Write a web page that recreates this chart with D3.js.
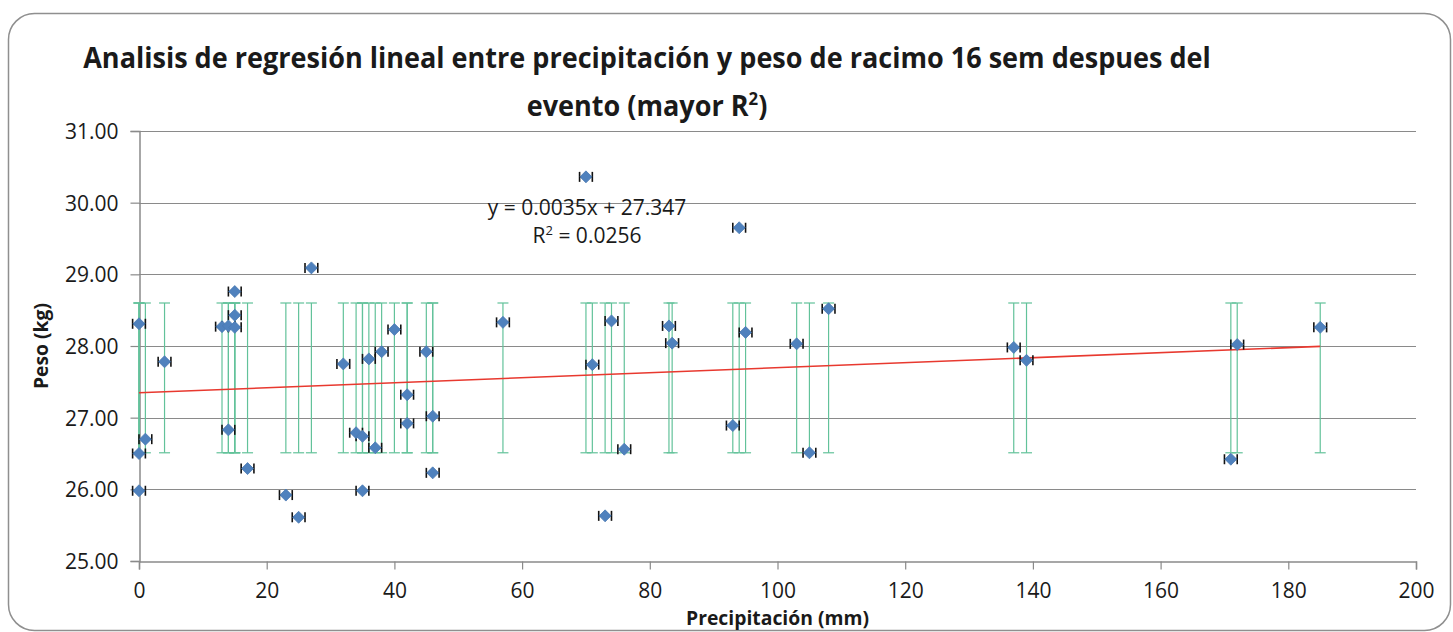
<!DOCTYPE html>
<html>
<head>
<meta charset="utf-8">
<script src="https://cdn.jsdelivr.net/npm/d3@7"></script>
<style>
  html, body { margin: 0; padding: 0; background: #fff; }
  svg { display: block; }
  text { font-family: "Open Sans", "Noto Sans", sans-serif; fill: #1a1a1a; }
</style>
</head>
<body>
<svg id="chart" width="1453" height="632"></svg>
<script>
// ---- data ----
const precipitacion = [0, 0, 0, 1, 4, 13, 14, 14, 15, 15, 15, 17, 23, 25, 27, 32, 34, 35, 35, 36, 37, 38, 40, 42, 42, 45, 46, 46, 57, 70, 71, 73, 74, 76, 83, 83.5, 93, 94, 95, 103, 105, 108, 137, 139, 171, 172, 185];
const peso = [28.31, 26.50, 25.98, 26.70, 27.78, 28.27, 28.28, 26.83, 28.76, 28.43, 28.26, 26.29, 25.92, 25.61, 29.09, 27.75, 26.79, 26.74, 25.98, 27.82, 26.58, 27.92, 28.23, 27.32, 26.92, 27.92, 27.02, 26.23, 28.33, 30.36, 27.74, 25.63, 28.35, 26.56, 28.28, 28.04, 26.89, 29.65, 28.19, 28.03, 26.51, 28.52, 27.98, 27.80, 26.42, 28.02, 28.26];
const yErrBar = [26.51, 28.60];          // green vertical error bar range (custom)
const xErrAmount = [1];                  // horizontal error bar (± mm)
const trend = [0.0035, 27.347];          // slope, intercept
const xTickValues = [0, 20, 40, 60, 80, 100, 120, 140, 160, 180, 200];
const yTickValues = [25, 26, 27, 28, 29, 30, 31];
const titleLines = ["Analisis de regresión lineal entre precipitación y peso de racimo 16 sem despues del", "evento (mayor R"];
const eqLines = ["y = 0.0035x + 27.347", "R"];
const eqR2 = "= 0.0256";
const xTitle = "Precipitación (mm)";
const yTitle = "Peso (kg)";

const points = precipitacion.map((p, i) => ({ x: p, y: peso[i] }));

// ---- layout ----
const svg = d3.select("#chart");
const L = 139, R = 1416, T = 131, B = 561;
const x = d3.scaleLinear().domain([0, 200]).range([L, R]);
const y = d3.scaleLinear().domain([25, 31]).range([B, T]);
const gridCol = "#8a8a8a";

// chart border
svg.append("rect").attr("x", 8.5).attr("y", 13.5).attr("width", 1442).attr("height", 617)
  .attr("rx", 26).attr("ry", 26).attr("fill", "#fff").attr("stroke", "#8f8f8f").attr("stroke-width", 1.5);

// gridlines
svg.append("g").selectAll("line").data(yTickValues.filter(d => d !== 25)).join("line")
  .attr("x1", L).attr("x2", R).attr("y1", d => Math.round(y(d)) + 0.5).attr("y2", d => Math.round(y(d)) + 0.5)
  .attr("stroke", gridCol).attr("stroke-width", 1.2);

// axes
const yAxis = svg.append("g").attr("transform", `translate(${L + 0.5},0)`)
  .call(d3.axisLeft(y).tickValues(yTickValues).tickFormat(d3.format(".2f")).tickSize(9).tickPadding(12));
const xAxis = svg.append("g").attr("transform", `translate(0,${B + 0.5})`)
  .call(d3.axisBottom(x).tickValues(xTickValues).tickSize(8).tickPadding(14));
[yAxis, xAxis].forEach(g => {
  g.select(".domain").attr("stroke", gridCol).attr("stroke-width", 1.5);
  g.selectAll(".tick line").attr("stroke", gridCol).attr("stroke-width", 1.2);
  g.selectAll(".tick text").attr("font-size", 21).attr("fill", "#222")
    .style("font-family", '"Open Sans", sans-serif');
});
yAxis.selectAll(".tick text").attr("dy", "0.36em");

// green vertical error bars
const gErrY = svg.append("g").attr("stroke", "#62c29a").attr("stroke-width", 1.2).attr("fill", "none");
points.forEach(d => {
  const cx = x(d.x), y0 = y(yErrBar[0]), y1 = y(yErrBar[1]);
  gErrY.append("line").attr("x1", cx).attr("x2", cx).attr("y1", y0).attr("y2", y1);
  gErrY.append("line").attr("x1", cx - 5.5).attr("x2", cx + 5.5).attr("y1", y0).attr("y2", y0);
  gErrY.append("line").attr("x1", cx - 5.5).attr("x2", cx + 5.5).attr("y1", y1).attr("y2", y1);
});

// trend line
const xMax = d3.max(precipitacion);
svg.append("line")
  .attr("x1", x(0)).attr("y1", y(trend[1]))
  .attr("x2", x(xMax)).attr("y2", y(trend[0] * xMax + trend[1]))
  .attr("stroke", "#e8392f").attr("stroke-width", 1.6);

// horizontal black error bars
const gErrX = svg.append("g").attr("stroke", "#111").attr("stroke-width", 1.6);
points.forEach(d => {
  const x0 = x(d.x - xErrAmount[0]), x1 = x(d.x + xErrAmount[0]), cy = y(d.y);
  gErrX.append("line").attr("x1", x0).attr("x2", x1).attr("y1", cy).attr("y2", cy);
  gErrX.append("line").attr("x1", x0).attr("x2", x0).attr("y1", cy - 5).attr("y2", cy + 5);
  gErrX.append("line").attr("x1", x1).attr("x2", x1).attr("y1", cy - 5).attr("y2", cy + 5);
});

// markers (diamonds)
const s = 6;
svg.append("g").selectAll("path").data(points).join("path")
  .attr("transform", d => `translate(${x(d.x)},${y(d.y)})`)
  .attr("d", `M0,${-s}L${s},0L0,${s}L${-s},0Z`)
  .attr("fill", "#4f81bd").attr("stroke", "#4a7ab3").attr("stroke-width", 0.8);

// equation
const eq = svg.append("g").attr("font-size", 21).attr("text-anchor", "middle");
eq.append("text").attr("x", 587).attr("y", 215).text(eqLines[0]);
const eq2 = eq.append("text").attr("x", 587).attr("y", 243);
eq2.append("tspan").text(eqLines[1]);
eq2.append("tspan").attr("font-size", 13).attr("dy", -8).text("2");
eq2.append("tspan").attr("dy", 8).text(" " + eqR2);

// title (condensed horizontally to match the narrow original face)
const tfs = 28;
const t1 = svg.append("text").attr("text-anchor", "middle")
  .attr("font-weight", "bold").attr("font-size", tfs).text(titleLines[0]);
const sx = 1128 / t1.node().getComputedTextLength();
t1.attr("transform", `translate(647,68) scale(${sx},1)`);
const t2 = svg.append("text").attr("text-anchor", "middle")
  .attr("font-weight", "bold").attr("font-size", tfs)
  .attr("transform", `translate(647,116) scale(${sx},1)`);
t2.append("tspan").text(titleLines[1]);
t2.append("tspan").attr("font-size", tfs * 0.62).attr("dy", -tfs * 0.38).text("2");
t2.append("tspan").attr("dy", tfs * 0.38).text(")");

// axis titles
const xt = svg.append("text").attr("x", (L + R) / 2).attr("y", 625).attr("text-anchor", "middle")
  .attr("font-weight", "bold").attr("font-size", 20).text(xTitle);
const wx = xt.node().getComputedTextLength();
const afs = 20 * 183 / wx;
xt.attr("font-size", afs);
svg.append("text").attr("transform", `translate(48,${(T + B) / 2}) rotate(-90)`).attr("text-anchor", "middle")
  .attr("font-weight", "bold").attr("font-size", afs).text(yTitle);
</script>
</body>
</html>
